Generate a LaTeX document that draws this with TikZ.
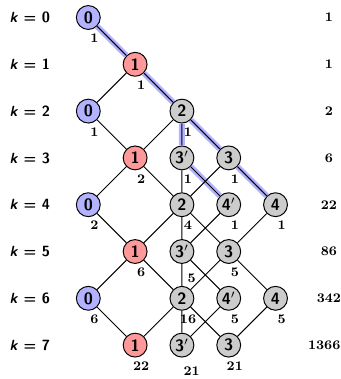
\documentclass[tikz,border=0pt]{standalone}
\usepackage{amsmath}
\usepackage{tikz}
\usetikzlibrary{positioning}
\tikzset{
  st/.style={circle,draw,line width=0.6pt,minimum size=0.51cm,inner sep=0pt,font=\normalsize\sffamily\bfseries},
  bl/.style={st,fill=blue!30},
  rd/.style={st,fill=red!40},
  gr/.style={st,fill=black!20},
  cnt/.style={inner sep=0pt,font=\footnotesize\bfseries,below=0.08cm of #1,xshift=0.13cm},
  cntlow/.style={inner sep=0pt,font=\footnotesize\bfseries,below=0.2cm of #1,xshift=0.21cm},
  hl/.style={line width=3.6pt,blue!30},
  kl/.style={font=\small\sffamily\bfseries},
  tot/.style={font=\footnotesize\bfseries}
}
\begin{document}
\begin{tikzpicture}
\useasboundingbox (-1.887,-7.724) rectangle (5.378,0.374);
% levels
\node[kl] (l0) at (-1.25,0) {\textit{k} = 0};
\node[kl] (l1) at (-1.25,-1) {\textit{k} = 1};
\node[kl] (l2) at (-1.25,-2) {\textit{k} = 2};
\node[kl] (l3) at (-1.25,-3) {\textit{k} = 3};
\node[kl] (l4) at (-1.25,-4) {\textit{k} = 4};
\node[kl] (l5) at (-1.25,-5) {\textit{k} = 5};
\node[kl] (l6) at (-1.25,-6) {\textit{k} = 6};
\node[kl] (l7) at (-1.25,-7) {\textit{k} = 7};
% states
\node[bl] (v00) at (0,0) {0};
\node[rd] (v11) at (1,-1) {1};
\node[bl] (v20) at (0,-2) {0};
\node[gr] (v22) at (2,-2) {2};
\node[rd] (v31) at (1,-3) {1};
\node[gr] (v33p) at (2,-3) {3$'$};
\node[gr] (v33) at (3,-3) {3};
\node[bl] (v40) at (0,-4) {0};
\node[gr] (v42) at (2,-4) {2};
\node[gr] (v44p) at (3,-4) {4$'$};
\node[gr] (v44) at (4,-4) {4};
\node[rd] (v51) at (1,-5) {1};
\node[gr] (v53p) at (2,-5) {3$'$};
\node[gr] (v53) at (3,-5) {3};
\node[bl] (v60) at (0,-6) {0};
\node[gr] (v62) at (2,-6) {2};
\node[gr] (v64p) at (3,-6) {4$'$};
\node[gr] (v64) at (4,-6) {4};
\node[rd] (v71) at (1,-7) {1};
\node[gr] (v73p) at (2,-7) {3$'$};
\node[gr] (v73) at (3,-7) {3};
% highlighted paths
\draw[hl] (v00)--(v11) (v11)--(v22) (v22)--(v33) (v33)--(v44);
\draw[hl] (v22)--(v33p) (v33p)--(v44p);
% transitions
\draw[line width=0.6pt] (v00)--(v11);
\draw[line width=0.6pt] (v11)--(v20) (v11)--(v22);
\draw[line width=0.6pt] (v20)--(v31) (v22)--(v31) (v22)--(v33p) (v22)--(v33);
\draw[line width=0.6pt] (v31)--(v40) (v31)--(v42) (v33p)--(v42) (v33p)--(v44p) (v33)--(v42) (v33)--(v44);
\draw[line width=0.6pt] (v40)--(v51) (v42)--(v51) (v42)--(v53p) (v42)--(v53) (v44p)--(v53p) (v44)--(v53);
\draw[line width=0.6pt] (v51)--(v60) (v51)--(v62) (v53p)--(v62) (v53p)--(v64p) (v53)--(v62) (v53)--(v64);
\draw[line width=0.6pt] (v60)--(v71) (v62)--(v71) (v62)--(v73p) (v62)--(v73) (v64p)--(v73p) (v64)--(v73);
% counts
\node[cnt=v00] (c00) {1};
\node[cnt=v11] (c11) {1};
\node[cnt=v20] (c20) {1};
\node[cnt=v22] (c22) {1};
\node[cnt=v31] (c31) {2};
\node[cnt=v33p] (c33p) {1};
\node[cnt=v33] (c33) {1};
\node[cnt=v40] (c40) {2};
\node[cnt=v42] (c42) {4};
\node[cnt=v44p] (c44p) {1};
\node[cnt=v44] (c44) {1};
\node[cnt=v51] (c51) {6};
\node[cntlow=v53p] (c53p) {5};
\node[cnt=v53] (c53) {5};
\node[cnt=v60] (c60) {6};
\node[cnt=v62] (c62) {16};
\node[cnt=v64p] (c64p) {5};
\node[cnt=v64] (c64) {5};
\node[cnt=v71] (c71) {22};
\node[cntlow=v73p] (c73p) {21};
\node[cnt=v73] (c73) {21};
% totals
\node[tot] (r0) at (5.14,0) {1};
\node[tot] (r1) at (5.14,-1) {1};
\node[tot] (r2) at (5.14,-2) {2};
\node[tot] (r3) at (5.14,-3) {6};
\node[tot] (r4) at (5.14,-4) {22};
\node[tot] (r5) at (5.14,-5) {86};
\node[tot] (r6) at (5.14,-6) {342};
\node[tot] (r7) at (5.04,-7) {1366};
\end{tikzpicture}
\end{document}
